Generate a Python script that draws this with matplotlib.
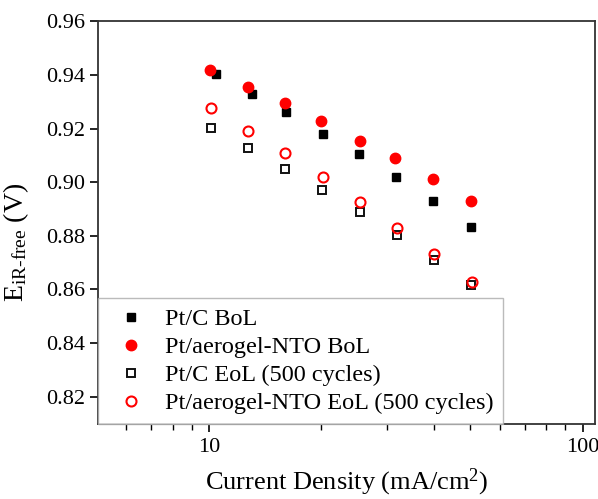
import numpy as np
import matplotlib.pyplot as plt
from matplotlib.ticker import LogLocator, NullFormatter, FixedLocator

plt.rcParams['font.family'] = ['Liberation Serif', 'DejaVu Serif']
plt.rcParams['mathtext.fontset'] = 'custom'
plt.rcParams['mathtext.rm'] = 'Liberation Serif'
plt.rcParams['mathtext.it'] = 'Liberation Serif:italic'

# current density (mA/cm2) and iR-free potential (V)
j_ptc_bol = [10.45, 13.05, 16.1, 20.2, 25.2, 31.6, 39.8, 50.4]
e_ptc_bol = [0.9405, 0.9331, 0.9261, 0.9179, 0.9104, 0.9020, 0.8930, 0.8832]

j_nto_bol = [10.05, 12.7, 16.0, 20.0, 25.3, 31.4, 39.7, 50.4]
e_nto_bol = [0.9420, 0.9355, 0.9297, 0.9229, 0.9154, 0.9091, 0.9012, 0.8930]

j_ptc_eol = [10.1, 12.7, 16.0, 20.1, 25.3, 31.8, 40.0, 50.4]
e_ptc_eol = [0.9203, 0.9128, 0.9051, 0.8971, 0.8887, 0.8802, 0.8711, 0.8615]

j_nto_eol = [10.1, 12.7, 16.0, 20.2, 25.3, 31.8, 40.0, 50.6]
e_nto_eol = [0.9276, 0.9193, 0.9108, 0.9018, 0.8926, 0.8828, 0.8731, 0.8626]

labels = ['Pt/C BoL', 'Pt/aerogel-NTO BoL', 'Pt/C EoL (500 cycles)',
          'Pt/aerogel-NTO EoL (500 cycles)']

fig = plt.figure(figsize=(5.98, 4.99), dpi=100)
ax = fig.add_axes([0.164, 0.150, 0.831, 0.807])

ax.plot(j_ptc_bol, e_ptc_bol, 's', color='black', ms=6.3, ls='none', label=labels[0], zorder=3)
ax.plot(j_nto_bol, e_nto_bol, 'o', color='red', ms=7.5, ls='none', label=labels[1], zorder=4)
ax.plot(j_ptc_eol, e_ptc_eol, 's', mfc='white', mec='#111111', mew=1.4, ms=6, ls='none',
        label=labels[2], zorder=3)
ax.plot(j_nto_eol, e_nto_eol, 'o', mfc='none', mec='red', mew=1.5, ms=7.2, ls='none',
        label=labels[3], zorder=4)

ax.set_xscale('log')
ax.set_xlim(5.05, 108)
ax.set_ylim(0.8097, 0.96)
ax.xaxis.set_major_locator(FixedLocator([10, 100]))
ax.xaxis.set_major_formatter(plt.FuncFormatter(lambda v, p: f'{v:g}'))
ax.xaxis.set_minor_locator(LogLocator(base=10, subs=np.arange(2, 10)))
ax.xaxis.set_minor_formatter(NullFormatter())
yt = [0.82, 0.84, 0.86, 0.88, 0.90, 0.92, 0.94, 0.96]
ax.set_yticks(yt)
ax.set_yticklabels([f'{v:.2f}' for v in yt])

ax.tick_params(axis='both', which='major', direction='out', length=6, width=1.2, labelsize=16)
ax.tick_params(axis='x', which='minor', direction='out', length=4, width=1.0)
ax.tick_params(axis='x', which='major', pad=4)
for s in ax.spines.values():
    s.set_linewidth(1.3)
    s.set_color('#333333')

ax.set_xlabel('Current Density (mA/cm$^2$)', fontsize=19, labelpad=7)
ax.set_ylabel(r'E$_{\text{iR-free}}$ (V)', fontsize=20)
ax.yaxis.set_label_coords(-0.135, 0.45)

leg = ax.legend(loc='lower left', borderaxespad=0, fontsize=17.5, frameon=True,
                fancybox=False, edgecolor='#aaaaaa', handletextpad=0.45,
                borderpad=0.4, labelspacing=0.25, handlelength=1.9)
leg.get_frame().set_linewidth(1.0)

fig.savefig('out.png', dpi=100)
